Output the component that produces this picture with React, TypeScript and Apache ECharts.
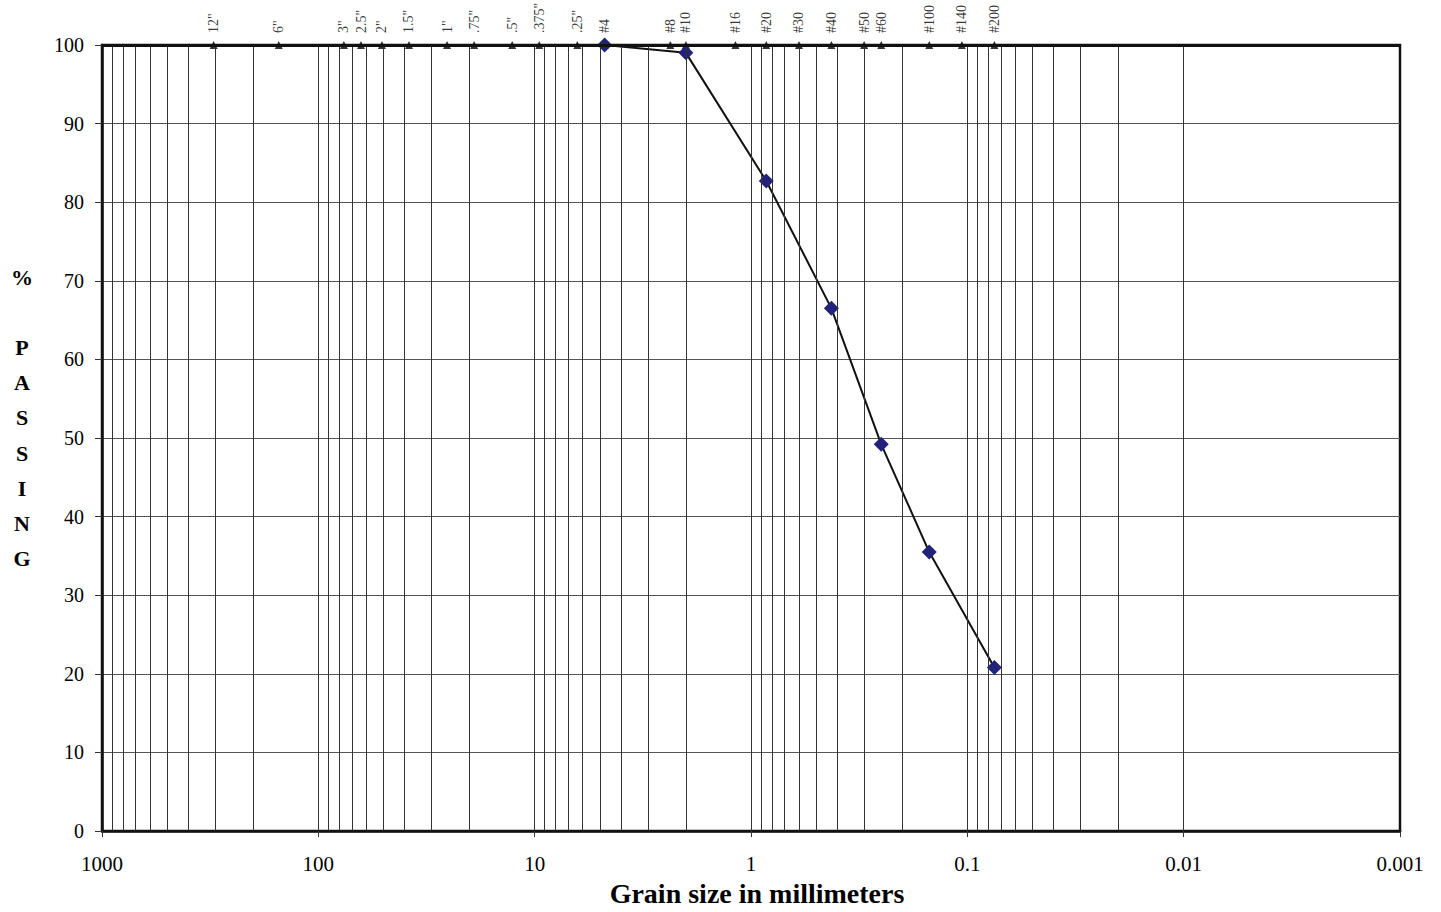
import React, { useEffect, useRef } from "react";
import * as echarts from "echarts";

const sieveNames = ['12"', '6"', '3"', '2.5"', '2"', '1.5"', '1"', '.75"', '.5"', '.375"', '.25"', '#4', '#8', '#10', '#16', '#20', '#30', '#40', '#50', '#60', '#100', '#140', '#200'];
const sieveSizes = [304.8, 152.4, 76.2, 63.5, 50.8, 38.1, 25.4, 19.05, 12.7, 9.525, 6.35, 4.75, 2.36, 2.0, 1.18, 0.85, 0.6, 0.425, 0.3, 0.25, 0.15, 0.106, 0.075];

const testSizes = [4.75, 2.0, 0.85, 0.425, 0.25, 0.15, 0.075];
const testPassing = [100, 99.0, 82.7, 66.5, 49.2, 35.5, 20.8];

const xTickLabels = ["0.001", "0.01", "0.1", "1", "10", "100", "1000"];
const yTitleLetters = ["%", "", "P", "A", "S", "S", "I", "N", "G"];

const SERIF = "'Liberation Serif', 'Times New Roman', Times, serif";

// minor log grid values 1..9 x 10^k within the axis range
const minorGrid: number[] = [];
for (let k = -3; k < 3; k++) {
  for (let m = 1; m <= 9; m++) {
    const v = m * Math.pow(10, k);
    if (v > 0.001 && v < 1000) minorGrid.push(Number(v.toPrecision(3)));
  }
}

export default function App() {
  const ref = useRef<HTMLDivElement>(null);
  useEffect(() => {
    if (!ref.current) return;
    const chart = echarts.init(ref.current, undefined, { renderer: "svg" });
    const graphics: any[] = yTitleLetters.map((ch, i) => ({
      type: "text",
      x: 22,
      y: 277 + i * 35.2,
      style: {
        text: ch,
        fontFamily: SERIF,
        fontWeight: "bold",
        fontSize: 22,
        fill: "#000",
        align: "center",
        verticalAlign: "middle",
      },
    }));
    chart.setOption({
      animation: false,
      backgroundColor: "#fff",
      grid: {
        left: 102,
        right: 41,
        top: 45,
        bottom: 74,
        show: true,
        borderColor: "#111",
        borderWidth: 2.5,
        containLabel: false,
      },
      xAxis: {
        type: "log",
        logBase: 10,
        min: 0.001,
        max: 1000,
        inverse: true,
        name: "Grain size in millimeters",
        nameLocation: "middle",
        nameGap: 43,
        nameTextStyle: { fontFamily: SERIF, fontWeight: "bold", fontSize: 28, color: "#000", padding: [0, 0, 0, 12] },
        axisLine: { show: true, lineStyle: { color: "#111", width: 2.5 } },
        axisTick: { show: true, length: 6, lineStyle: { color: "#333" } },
        splitLine: { show: false },
        axisLabel: {
          margin: 22,
          fontFamily: SERIF,
          fontSize: 21,
          color: "#000",
          formatter: (v: number) => xTickLabels[Math.round(Math.log10(v)) + 3] ?? "",
        },
      },
      yAxis: {
        type: "value",
        min: 0,
        max: 100,
        interval: 10,
        axisLine: { show: true, lineStyle: { color: "#111", width: 2.5 } },
        axisTick: { show: true, length: 7, lineStyle: { color: "#333" } },
        splitLine: { show: true, lineStyle: { color: "#555", width: 1 } },
        axisLabel: { margin: 18, fontFamily: SERIF, fontSize: 20, color: "#000" },
      },
      graphic: graphics,
      series: [
        {
          type: "line",
          data: [],
          silent: true,
          z: 1,
          markLine: {
            silent: true,
            symbol: ["none", "none"],
            label: { show: false },
            animation: false,
            lineStyle: { color: "#333", width: 1, type: "solid" },
            data: [
              ...minorGrid.map((v) => ({ xAxis: v })),
              { yAxis: 100, lineStyle: { color: "#111", width: 3, type: "solid" } },
            ],
          },
        },
        {
          type: "scatter",
          z: 3,
          symbol: "triangle",
          symbolSize: 8,
          itemStyle: { color: "#000" },
          data: sieveSizes.map((s, i) => ({ value: [s, 100], name: sieveNames[i] })),
          label: {
            show: true,
            position: "top",
            distance: 8,
            rotate: 90,
            align: "left",
            verticalAlign: "middle",
            fontFamily: SERIF,
            fontSize: 14,
            color: "#000",
            formatter: (p: any) => p.name,
          },
        },
        {
          type: "line",
          z: 4,
          symbol: "diamond",
          symbolSize: 15,
          itemStyle: { color: "#22227a" },
          lineStyle: { color: "#111", width: 2 },
          data: testSizes.map((s, i) => [s, testPassing[i]]),
        },
      ],
    });
    return () => chart.dispose();
  }, []);
  return (
    <div
      ref={ref}
      style={{ position: "fixed", left: 0, top: 0, width: 1441, height: 912, background: "#fff" }}
    />
  );
}
